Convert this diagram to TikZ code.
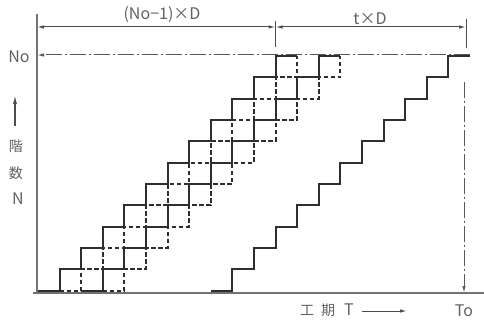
\documentclass[tikz,border=0pt]{standalone}
\usepackage{fontspec}
\setmainfont{Noto Sans CJK JP}
\usetikzlibrary{arrows.meta}
\begin{document}
\begin{tikzpicture}[x=1pt,y=-1pt,
  stairsolid/.style={line width=2pt, draw=black!82, line join=miter},
  stairdash/.style={stairsolid, dash pattern=on 4.5pt off 2.5pt},
  axisline/.style={line width=1.2pt, draw=black!55},
  dimline/.style={line width=1pt, draw=black!70},
  dashdotline/.style={line width=1pt, draw=black!65, dash pattern=on 16pt off 3pt on 2pt off 3pt},
  tip/.style={-{Latex[length=7pt,width=3.4pt]}},
  lbl/.style={text=black!62, font=\fontsize{16}{16}\selectfont, inner sep=0pt},
  cjk/.style={text=black!62, font=\fontsize{14}{14}\selectfont, inner sep=0pt}]
\useasboundingbox (0,0) rectangle (484,321);
\def\ux{21.6}\def\uy{21.32}\def\xo{59.5}\def\yb{290.5}
\newcommand\mystairs[3]{%
  \draw[#2] ({\xo+(#1-1)*\ux},\yb) \foreach \k in {0,...,10}{ -- ++(\ux,0) -- ++(0,-\uy) } #3;}
% axes
\coordinate (yaxTop) at (37,14);
\coordinate (yaxBot) at (37,293);
\coordinate (xaxL) at (33,293);
\coordinate (xaxR) at (484,293);
\draw[axisline] (yaxTop) -- (yaxBot);
\draw[axisline] (xaxL) -- (xaxR);
% staircases
\mystairs{0}{stairsolid}{-- ++(\ux,0)}
\mystairs{1}{stairdash}{}
\mystairs{2}{stairsolid}{-- ++(\ux,0)}
\mystairs{3}{stairdash}{}
\mystairs{8}{stairsolid}{-- ++(\ux,0)}
% No line
\coordinate (noR) at (470,55);
\coordinate (noL) at (37,55);
\draw[dashdotline, tip] (noR) -- (noL);
% To line
\coordinate (toTop) at (464,82);
\coordinate (toBot) at (464,293);
\draw[dashdotline, tip] (toTop) -- (toBot);
% dimension lines
\coordinate (tickAtop) at (275.5,21);
\coordinate (tickAbot) at (275.5,47);
\coordinate (tickBtop) at (466,19);
\coordinate (tickBbot) at (466,48);
\draw[dimline] (tickAtop) -- (tickAbot);
\draw[dimline] (tickBtop) -- (tickBbot);
\coordinate (d1L) at (37,27);
\coordinate (d1R) at (275.5,27);
\coordinate (d2R) at (466,27);
\draw[dimline, {Latex[length=7pt,width=3.4pt]}-{Latex[length=7pt,width=3.4pt]}] (d1L) -- (d1R);
\draw[dimline, {Latex[length=7pt,width=3.4pt]}-{Latex[length=7pt,width=3.4pt]}] (d1R) -- (d2R);
\node[lbl] (lab1) at (162,15) {(No−1)×D};
\node[lbl] (lab2) at (370,19) {t×D};
% y labels
\node[lbl] (labNo) at (19,57) {No};
\coordinate (upT) at (15,95);
\coordinate (upB) at (15,126);
\draw[line width=1.3pt, draw=black!70, -{Latex[length=9pt,width=4pt]}] (upB) -- (upT);
\node[cjk] (kai) at (16,146) {階};
\node[cjk] (suu) at (16,173) {数};
\node[lbl] (labN) at (18,199) {N};
% x labels
\node[cjk] (kou) at (307,310) {工};
\node[cjk] (ki) at (328,310) {期};
\node[lbl] (labT) at (349,310) {T};
\coordinate (rtL) at (362,311);
\coordinate (rtR) at (407,311);
\draw[dimline, tip] (rtL) -- (rtR);
\node[lbl] (labTo) at (464,311) {To};
\end{tikzpicture}
\end{document}
